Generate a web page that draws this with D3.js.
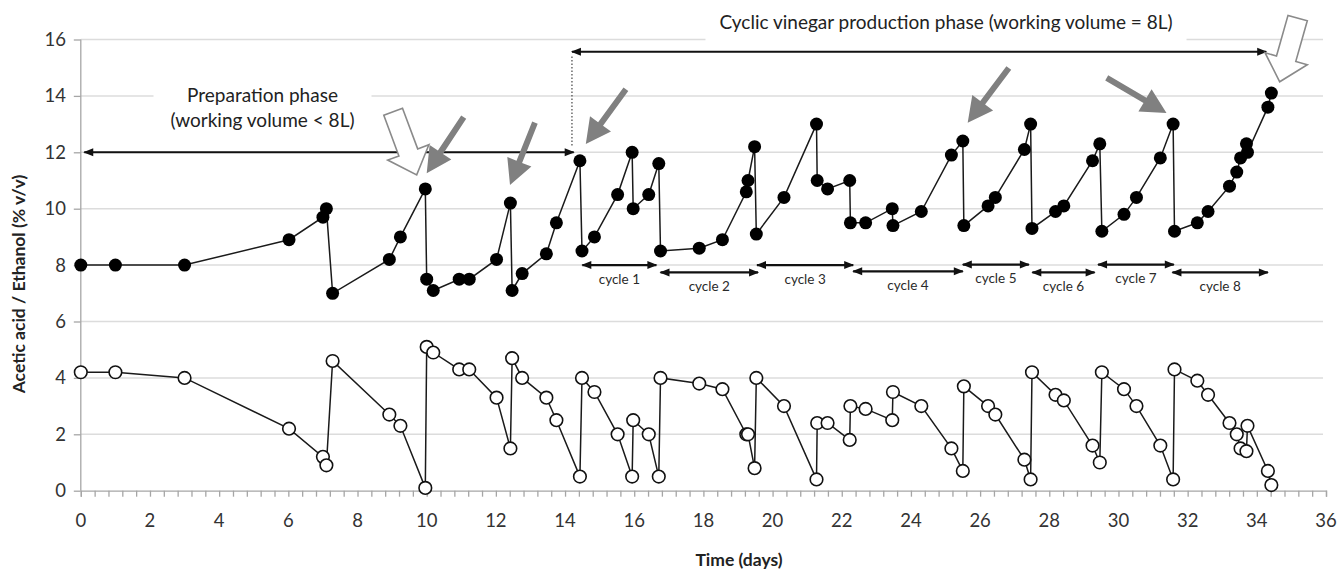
<!DOCTYPE html>
<html>
<head>
<meta charset="utf-8">
<script src="https://cdn.jsdelivr.net/npm/d3@7"></script>
<style>
  body { margin: 0; background: #fff; }
  text { font-family: Lato, "Open Sans", sans-serif; }
</style>
</head>
<body>
<div id="graphe"></div>
<script>
// temps (jours) communs aux deux séries
var jours = [0, 1.0, 3.0, 6.02, 7.0, 7.1, 7.28, 8.92, 9.24, 9.96, 10.0, 10.19, 10.94, 11.23, 12.02, 12.42, 12.47,
  12.76, 13.46, 13.75, 14.43, 14.49, 14.85, 15.52, 15.94, 15.97, 16.42, 16.71, 16.76, 17.88, 18.55, 19.24, 19.29,
  19.48, 19.53, 20.33, 21.27, 21.29, 21.59, 22.23, 22.25, 22.69, 23.46, 23.48, 24.30, 25.17, 25.50, 25.53, 26.23,
  26.44, 27.28, 27.46, 27.50, 28.18, 28.42, 29.25, 29.46, 29.52, 30.16, 30.52, 31.21, 31.58, 31.62, 32.28, 32.59,
  33.21, 33.42, 33.53, 33.70, 33.73, 34.32, 34.42];
var acide = [8.0, 8.0, 8.0, 8.9, 9.7, 10.0, 7.0, 8.2, 9.0, 10.7, 7.5, 7.1, 7.5, 7.5, 8.2, 10.2, 7.1,
  7.7, 8.4, 9.5, 11.7, 8.5, 9.0, 10.5, 12.0, 10.0, 10.5, 11.6, 8.5, 8.6, 8.9, 10.6, 11.0,
  12.2, 9.1, 10.4, 13.0, 11.0, 10.7, 11.0, 9.5, 9.5, 10.0, 9.4, 9.9, 11.9, 12.4, 9.4, 10.1,
  10.4, 12.1, 13.0, 9.3, 9.9, 10.1, 11.7, 12.3, 9.2, 9.8, 10.4, 11.8, 13.0, 9.2, 9.5, 9.9,
  10.8, 11.3, 11.8, 12.3, 12.0, 13.6, 14.1];
var ethanol = [4.2, 4.2, 4.0, 2.2, 1.2, 0.9, 4.6, 2.7, 2.3, 0.1, 5.1, 4.9, 4.3, 4.3, 3.3, 1.5, 4.7,
  4.0, 3.3, 2.5, 0.5, 4.0, 3.5, 2.0, 0.5, 2.5, 2.0, 0.5, 4.0, 3.8, 3.6, 2.0, 2.0,
  0.8, 4.0, 3.0, 0.4, 2.4, 2.4, 1.8, 3.0, 2.9, 2.5, 3.5, 3.0, 1.5, 0.7, 3.7, 3.0,
  2.7, 1.1, 0.4, 4.2, 3.4, 3.2, 1.6, 1.0, 4.2, 3.6, 3.0, 1.6, 0.4, 4.3, 3.9, 3.4,
  2.4, 2.0, 1.5, 1.4, 2.3, 0.7, 0.2];

var ticksX = d3.range(0, 37, 2);
var ticksY = d3.range(0, 17, 2);

// cycles : début, fin (jours), hauteur de la flèche (% v/v)
var cycles = ["cycle 1", "cycle 2", "cycle 3", "cycle 4", "cycle 5", "cycle 6", "cycle 7", "cycle 8"];
var debutCycle = [14.5, 16.76, 19.55, 22.33, 25.5, 27.51, 29.41, 31.56];
var finCycle = [16.64, 19.58, 22.33, 25.5, 27.41, 29.31, 31.6, 34.32];
var niveauCycle = [8.0, 7.74, 8.0, 7.78, 8.02, 7.74, 8.02, 7.74];

// flèches grises pleines [jourQueue, valQueue, jourPointe, valPointe]
var flechesGrises = [[11.07, 13.25, 10.0, 11.26], [13.13, 13.05, 12.41, 10.84], [15.76, 14.24, 14.6, 12.29],
  [26.83, 14.99, 25.64, 13.05], [29.66, 14.64, 31.39, 13.39]];
// flèches creuses
var flechesCreuses = [[9.03, 13.44, 9.71, 11.2], [35.18, 16.76, 34.66, 14.5]];

var largeur = 1343, hauteur = 572;
var x = d3.scaleLinear().domain([0, 36]).range([80.8, 1326]);
var y = d3.scaleLinear().domain([0, 16]).range([490.7, 39.5]);

var svg = d3.select("#graphe").append("svg").attr("width", largeur).attr("height", hauteur);

var defs = svg.append("defs");
defs.append("marker").attr("id", "pointe").attr("viewBox", "0 0 10 10")
  .attr("refX", 9).attr("refY", 5).attr("markerWidth", 11).attr("markerHeight", 10)
  .attr("markerUnits", "userSpaceOnUse").attr("orient", "auto-start-reverse")
  .append("path").attr("d", "M0,1 L10,5 L0,9 Z").attr("fill", "#111");

// grille horizontale
svg.append("g").selectAll("line").data(ticksY.filter(function(d) { return d > 0; })).enter().append("line")
  .attr("x1", x(0)).attr("x2", x(36) - 3).attr("y1", function(d) { return y(d); }).attr("y2", function(d) { return y(d); })
  .attr("stroke", "#dcdcdc").attr("stroke-width", 1.5);

// axes
var axeX = d3.axisBottom(x).tickValues(d3.range(0, 36.01, 0.4)).tickSize(6).tickFormat("");
svg.append("g").attr("transform", "translate(0," + y(0) + ")").call(axeX)
  .call(function(g) { g.selectAll("line, path").attr("stroke", "#a6a6a6").attr("stroke-width", 1.3); });
svg.append("g").selectAll("text").data(ticksX).enter().append("text")
  .attr("x", function(d) { return x(d); }).attr("y", 527)
  .attr("text-anchor", "middle").attr("font-size", 18.5).attr("fill", "#333").text(function(d) { return d; });

var axeY = d3.axisLeft(y).tickValues(ticksY).tickSize(7).tickFormat("");
svg.append("g").attr("transform", "translate(" + x(0) + ",0)").call(axeY)
  .call(function(g) { g.select(".domain").attr("d", "M0," + y(16) + "V" + y(0)); })
  .call(function(g) { g.selectAll("line, path").attr("stroke", "#a6a6a6").attr("stroke-width", 1.3); });
svg.append("g").selectAll("text").data(ticksY).enter().append("text")
  .attr("x", 66).attr("y", function(d) { return y(d) + 6.5; })
  .attr("text-anchor", "end").attr("font-size", 18.5).attr("fill", "#333").text(function(d) { return d; });

svg.append("text").attr("x", 739).attr("y", 566).attr("text-anchor", "middle")
  .attr("font-size", 17.5).attr("font-weight", "bold").attr("fill", "#222").text("Time (days)");
svg.append("text").attr("transform", "translate(25," + 284 + ") rotate(-90)").attr("text-anchor", "middle")
  .attr("font-size", 17.5).attr("font-weight", "bold").attr("fill", "#222").text("Acetic acid / Ethanol (% v/v)");

// textes des phases avec fond blanc
function etiquette(cx, lignes, yHaut, larg, haut, ecart, yPremiere) {
  svg.append("rect").attr("x", cx - larg / 2).attr("y", yHaut).attr("width", larg).attr("height", haut).attr("fill", "#fff");
  lignes.forEach(function(l, i) {
    svg.append("text").attr("x", cx).attr("y", yPremiere + i * ecart).attr("text-anchor", "middle")
      .attr("font-size", 19).attr("fill", "#222").text(l);
  });
}
etiquette(262.5, ["Preparation phase", "(working volume < 8L)"], 84, 218, 50, 25, 101.5);
etiquette(946, ["Cyclic vinegar production phase (working volume = 8L)"], 4, 481, 42, 0, 28.5);

// flèches noires des phases
svg.append("line").attr("x1", x(0.1)).attr("x2", x(14.25)).attr("y1", y(12)).attr("y2", y(12))
  .attr("stroke", "#111").attr("stroke-width", 2).attr("marker-start", "url(#pointe)").attr("marker-end", "url(#pointe)");
svg.append("line").attr("x1", x(14.2)).attr("x2", x(34.27)).attr("y1", y(15.57)).attr("y2", y(15.57))
  .attr("stroke", "#111").attr("stroke-width", 2).attr("marker-start", "url(#pointe)").attr("marker-end", "url(#pointe)");
svg.append("line").attr("x1", x(14.2)).attr("x2", x(14.2)).attr("y1", y(15.4)).attr("y2", y(12.2))
  .attr("stroke", "#444").attr("stroke-width", 1.2).attr("stroke-dasharray", "1.5,2");

// cycles
var gCycles = svg.append("g");
cycles.forEach(function(c, i) {
  gCycles.append("line").attr("x1", x(debutCycle[i])).attr("x2", x(finCycle[i]))
    .attr("y1", y(niveauCycle[i])).attr("y2", y(niveauCycle[i]))
    .attr("stroke", "#111").attr("stroke-width", 2.2)
    .attr("marker-start", "url(#pointe)").attr("marker-end", "url(#pointe)");
  gCycles.append("text").attr("x", (x(debutCycle[i]) + x(finCycle[i])) / 2).attr("y", y(niveauCycle[i]) + 18.5)
    .attr("text-anchor", "middle").attr("font-size", 13.5).attr("fill", "#2a2a2a").text(c);
});

// construit le polygone d'une flèche
function pointsFleche(x1, y1, x2, y2, tige, tete, longTete) {
  var dx = x2 - x1, dy = y2 - y1, l = Math.sqrt(dx * dx + dy * dy);
  var ux = dx / l, uy = dy / l, nx = -uy, ny = ux;
  var bx = x2 - ux * longTete, by = y2 - uy * longTete;
  var p = [[x1 + nx * tige / 2, y1 + ny * tige / 2], [bx + nx * tige / 2, by + ny * tige / 2],
    [bx + nx * tete / 2, by + ny * tete / 2], [x2, y2], [bx - nx * tete / 2, by - ny * tete / 2],
    [bx - nx * tige / 2, by - ny * tige / 2], [x1 - nx * tige / 2, y1 - ny * tige / 2]];
  return p.map(function(q) { return q[0].toFixed(1) + "," + q[1].toFixed(1); }).join(" ");
}

svg.append("g").selectAll("polygon").data(flechesGrises).enter().append("polygon")
  .attr("points", function(f) { return pointsFleche(x(f[0]), y(f[1]), x(f[2]), y(f[3]), 6, 26, 25); })
  .attr("fill", "#808080");
svg.append("g").selectAll("polygon").data(flechesCreuses).enter().append("polygon")
  .attr("points", function(f) { return pointsFleche(x(f[0]), y(f[1]), x(f[2]), y(f[3]), 20, 44, 24); })
  .attr("fill", "#fff").attr("stroke", "#8a8a8a").attr("stroke-width", 1.6);

// séries
var ligne = d3.line().x(function(d) { return x(d[0]); }).y(function(d) { return y(d[1]); });
var ptsAcide = jours.map(function(j, i) { return [j, acide[i]]; });
var ptsEthanol = jours.map(function(j, i) { return [j, ethanol[i]]; });

svg.append("path").attr("d", ligne(ptsEthanol)).attr("fill", "none").attr("stroke", "#1a1a1a").attr("stroke-width", 1.5);
svg.append("path").attr("d", ligne(ptsAcide)).attr("fill", "none").attr("stroke", "#1a1a1a").attr("stroke-width", 1.5);

svg.append("g").selectAll("circle").data(ptsEthanol).enter().append("circle")
  .attr("cx", function(d) { return x(d[0]); }).attr("cy", function(d) { return y(d[1]); }).attr("r", 6.3)
  .attr("fill", "#fff").attr("stroke", "#111").attr("stroke-width", 1.6);
svg.append("g").selectAll("circle").data(ptsAcide).enter().append("circle")
  .attr("cx", function(d) { return x(d[0]); }).attr("cy", function(d) { return y(d[1]); }).attr("r", 6.5)
  .attr("fill", "#000");
</script>
</body>
</html>
